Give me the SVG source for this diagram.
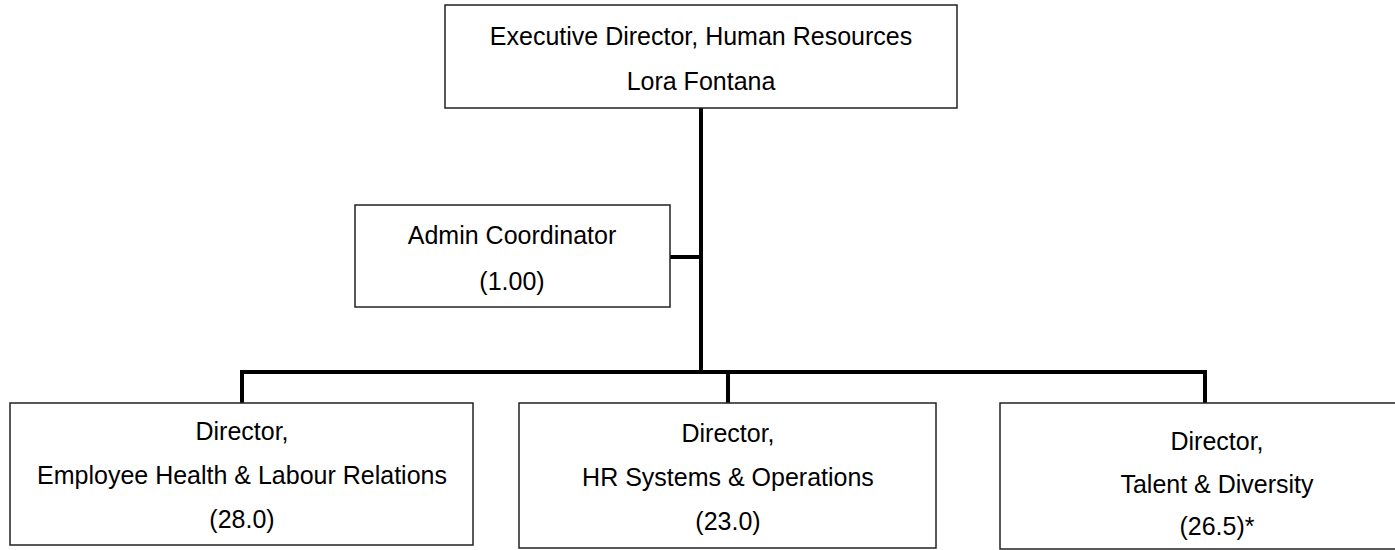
<svg xmlns="http://www.w3.org/2000/svg" width="1395" height="550" viewBox="0 0 1395 550">
<style>
.box{fill:#fff;stroke:#222;stroke-width:1.5}
.t{font-family:"Liberation Sans",Arial,sans-serif;font-size:25px;fill:#000;text-anchor:middle}
.c{stroke:#000;stroke-width:4;fill:none;stroke-linecap:square}
</style>
<rect width="1395" height="550" fill="#fff"/>
<g id="connectors">
<line class="c" x1="701" y1="108" x2="701" y2="372"/>
<line class="c" x1="670" y1="257" x2="701" y2="257"/>
<polyline class="c" points="242,403 242,372 1205,372 1205,403"/>
<line class="c" x1="728" y1="372" x2="728" y2="403"/>
</g>
<g id="exec">
<rect class="box" x="445" y="5" width="512" height="103"/>
<text class="t" x="701" y="45">Executive Director, Human Resources</text>
<text class="t" x="701" y="90">Lora Fontana</text>
</g>
<g id="admin">
<rect class="box" x="355" y="205" width="315" height="102"/>
<text class="t" x="512" y="244">Admin Coordinator</text>
<text class="t" x="512" y="290">(1.00)</text>
</g>
<g id="ehlr">
<rect class="box" x="10" y="403" width="463" height="142"/>
<text class="t" x="242" y="440">Director,</text>
<text class="t" x="242" y="484">Employee Health &amp; Labour Relations</text>
<text class="t" x="242" y="528">(28.0)</text>
</g>
<g id="hrso">
<rect class="box" x="519" y="403" width="417" height="145"/>
<text class="t" x="728" y="442">Director,</text>
<text class="t" x="728" y="486">HR Systems &amp; Operations</text>
<text class="t" x="728" y="530">(23.0)</text>
</g>
<g id="td">
<rect class="box" x="1000" y="403" width="434" height="146"/>
<text class="t" x="1217" y="450">Director,</text>
<text class="t" x="1217" y="493">Talent &amp; Diversity</text>
<text class="t" x="1217" y="535">(26.5)*</text>
</g>
</svg>
